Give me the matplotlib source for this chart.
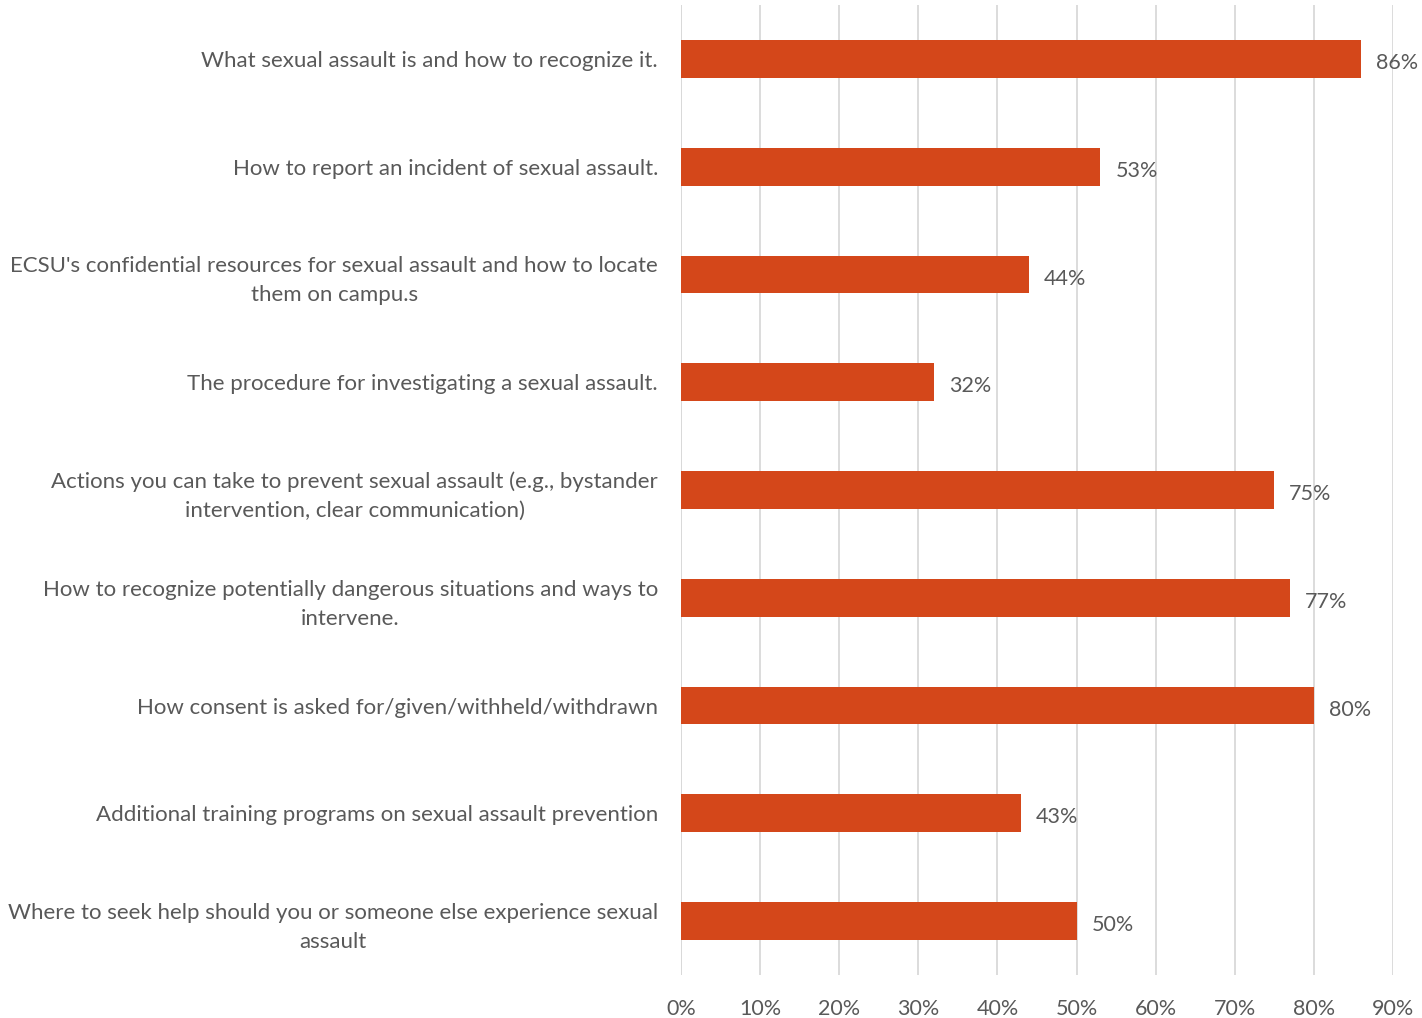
import matplotlib
matplotlib.use("Agg")
import matplotlib.pyplot as plt

categories = [
    "What sexual assault is and how to recognize it.",
    "How to report an incident of sexual assault.",
    "ECSU's confidential resources for sexual assault and how to locate\nthem on campu.s",
    "The procedure for investigating a sexual assault.",
    "Actions you can take to prevent sexual assault (e.g., bystander\nintervention, clear communication)",
    "How to recognize potentially dangerous situations and ways to\nintervene.",
    "How consent is asked for/given/withheld/withdrawn",
    "Additional training programs on sexual assault prevention",
    "Where to seek help should you or someone else experience sexual\nassault",
]
values = [86, 53, 44, 32, 75, 77, 80, 43, 50]
ticks = [0, 10, 20, 30, 40, 50, 60, 70, 80, 90]
tick_labels = [f"{t}%" for t in ticks]

bar_color = "#D4471A"
text_color = "#595959"
grid_color = "#D9D9D9"

plt.rcParams["font.family"] = ["Lato", "DejaVu Sans"]

fig = plt.figure(figsize=(14.22, 10.18), dpi=100)
ax = fig.add_axes([681 / 1422, 1 - 975 / 1018, (1393 - 681) / 1422, 970 / 1018])

y = list(range(len(categories)))
ax.barh(y, values, height=0.35, color=bar_color, zorder=3)
for yi, v in zip(y, values):
    ax.text(v + 1.9, yi + 0.02, f"{v}%", va="center_baseline", ha="left",
            fontsize=15.5, color=text_color)

ax.set_ylim(len(categories) - 0.5, -0.5)
ax.set_xlim(0, 90)
ax.set_xticks(ticks)
ax.set_xticklabels(tick_labels, fontsize=15.5, color=text_color)
ax.set_yticks(y)
ax.set_yticklabels(categories, fontsize=16, color=text_color, ha="right",
                   multialignment="center", linespacing=1.55)
ax.tick_params(axis="y", length=0, pad=16.5)
ax.tick_params(axis="x", length=0, pad=17)

ax.xaxis.grid(True, color=grid_color, linewidth=1.3, zorder=0)
ax.set_axisbelow(True)
for s in ax.spines.values():
    s.set_visible(False)
ax.axvline(0, color=grid_color, linewidth=1.3, zorder=1)

fig.savefig("out.png", dpi=100)
